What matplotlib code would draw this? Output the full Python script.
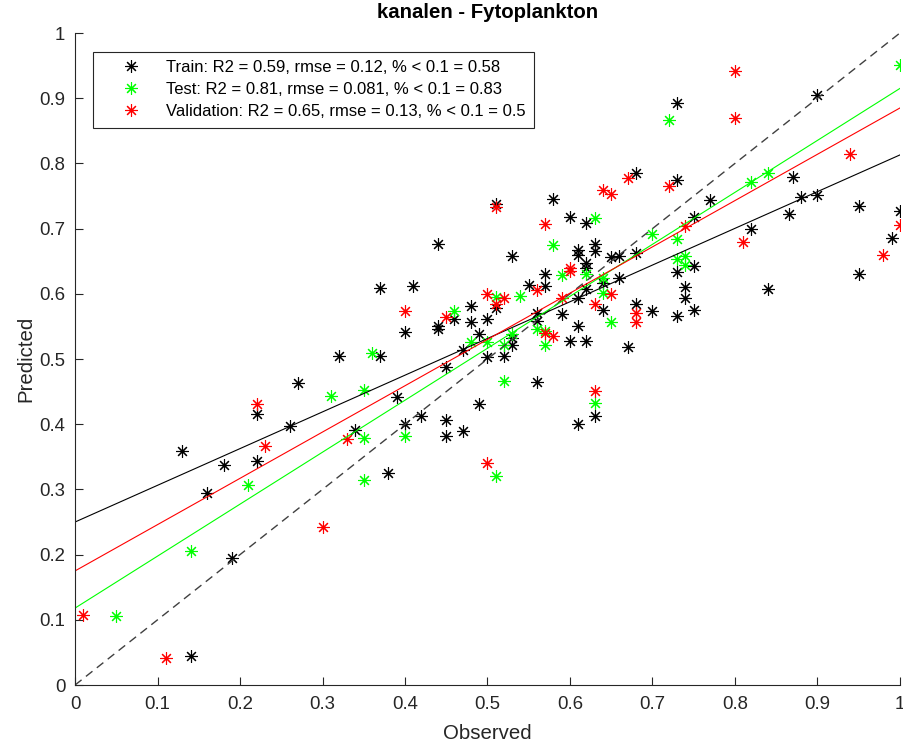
import numpy as np
import matplotlib
matplotlib.use('Agg')
import matplotlib.pyplot as plt

plt.rcParams['font.family'] = ['Liberation Sans', 'DejaVu Sans']

# Train (black)
train_obs = [0.14, 0.13, 0.16, 0.18, 0.19, 0.22, 0.22, 0.26, 0.27, 0.32, 0.34, 0.37, 0.38, 0.39,
             0.40, 0.42, 0.45, 0.45, 0.47, 0.49, 0.56, 0.45, 0.47, 0.49, 0.50, 0.52, 0.53, 0.53,
             0.60, 0.62, 0.67, 0.63, 0.61, 0.37, 0.41, 0.40, 0.44, 0.44, 0.44, 0.46, 0.48, 0.48,
             0.50, 0.51, 0.51, 0.53, 0.55, 0.57, 0.57, 0.56, 0.56, 0.58, 0.60, 0.62, 0.61, 0.61,
             0.63, 0.63, 0.62, 0.62, 0.65, 0.66, 0.68, 0.66, 0.64, 0.62, 0.61, 0.59, 0.64, 0.61,
             0.68, 0.70, 0.74, 0.75, 0.73, 0.73, 0.75, 0.74, 0.68, 0.73, 0.73, 0.75, 0.77, 0.82,
             0.84, 0.865, 0.87, 0.88, 0.90, 0.90, 0.95, 0.95, 0.99, 1.00]
train_pred = [0.044, 0.359, 0.294, 0.338, 0.195, 0.416, 0.344, 0.397, 0.463, 0.505, 0.391, 0.504,
              0.325, 0.442, 0.400, 0.412, 0.407, 0.382, 0.390, 0.431, 0.464, 0.488, 0.514, 0.538,
              0.503, 0.504, 0.522, 0.532, 0.527, 0.527, 0.519, 0.413, 0.400, 0.609, 0.612, 0.542,
              0.677, 0.550, 0.546, 0.562, 0.582, 0.557, 0.562, 0.578, 0.738, 0.658, 0.614, 0.631,
              0.612, 0.570, 0.558, 0.746, 0.718, 0.708, 0.667, 0.660, 0.677, 0.666, 0.647, 0.639,
              0.657, 0.658, 0.662, 0.624, 0.616, 0.608, 0.594, 0.569, 0.575, 0.551, 0.585, 0.574,
              0.593, 0.575, 0.566, 0.634, 0.643, 0.611, 0.786, 0.775, 0.893, 0.718, 0.744, 0.699,
              0.608, 0.723, 0.779, 0.749, 0.752, 0.905, 0.734, 0.631, 0.685, 0.727]

# Test (green)
test_obs = [0.05, 0.14, 0.21, 0.31, 0.35, 0.35, 0.35, 0.36, 0.40, 0.46, 0.48, 0.50, 0.51, 0.52,
            0.52, 0.53, 0.51, 0.54, 0.56, 0.57, 0.57, 0.58, 0.59, 0.62, 0.63, 0.64, 0.64, 0.65,
            0.70, 0.73, 0.73, 0.74, 0.74, 0.72, 0.82, 0.84, 1.00, 0.63]
test_pred = [0.106, 0.206, 0.307, 0.444, 0.452, 0.379, 0.314, 0.509, 0.382, 0.573, 0.526, 0.526,
             0.321, 0.467, 0.521, 0.538, 0.595, 0.597, 0.546, 0.543, 0.521, 0.675, 0.629, 0.630,
             0.717, 0.624, 0.601, 0.557, 0.691, 0.684, 0.653, 0.658, 0.644, 0.867, 0.772, 0.786,
             0.951, 0.432]

# Validation (red)
val_obs = [0.01, 0.11, 0.22, 0.23, 0.30, 0.33, 0.40, 0.45, 0.50, 0.51, 0.52, 0.50, 0.51, 0.56,
           0.57, 0.58, 0.57, 0.59, 0.60, 0.60, 0.63, 0.63, 0.65, 0.64, 0.65, 0.67, 0.72, 0.68,
           0.68, 0.74, 0.80, 0.80, 0.81, 0.94, 0.98, 1.00]
val_pred = [0.107, 0.042, 0.431, 0.367, 0.243, 0.377, 0.573, 0.565, 0.600, 0.585, 0.594, 0.341,
            0.733, 0.606, 0.540, 0.536, 0.707, 0.593, 0.640, 0.635, 0.584, 0.451, 0.599, 0.759,
            0.753, 0.777, 0.766, 0.571, 0.557, 0.704, 0.942, 0.869, 0.680, 0.814, 0.660, 0.706]

# linear fits (intercept, slope)
fit_train = (0.25, 0.563)
fit_test = (0.118, 0.797)
fit_val = (0.175, 0.710)

labels = ['Train: R2 = 0.59, rmse = 0.12, % < 0.1 = 0.58',
          'Test: R2 = 0.81, rmse = 0.081, % < 0.1 = 0.83',
          'Validation: R2 = 0.65, rmse = 0.13, % < 0.1 = 0.5']

fig = plt.figure(figsize=(9.04, 7.45), dpi=100)
ax = fig.add_axes([0.083, 0.0805, 0.9125, 0.8752])

ast = (8, 2, 0)
ms = 9
mew = 0.8
h1, = ax.plot(train_obs, train_pred, ls='none', marker=ast, ms=ms, mew=mew, color='k')
h2, = ax.plot(test_obs, test_pred, ls='none', marker=ast, ms=ms, mew=mew, color=(0, 1, 0))
h3, = ax.plot(val_obs, val_pred, ls='none', marker=ast, ms=ms, mew=mew, color=(1, 0, 0))

xx = np.array([0, 1])
ax.plot(xx, xx, ls=(0, (6, 4)), color='0.25', lw=1)
ax.plot(xx, fit_train[0] + fit_train[1] * xx, color='k', lw=0.8)
ax.plot(xx, fit_test[0] + fit_test[1] * xx, color=(0, 1, 0), lw=0.8)
ax.plot(xx, fit_val[0] + fit_val[1] * xx, color=(1, 0, 0), lw=0.8)

ax.set_xlim(0, 1)
ax.set_ylim(0, 1)
ticks = np.round(np.arange(0, 1.01, 0.1), 1)
ticklabels = ['0'] + [f'{t:g}' for t in ticks[1:-1]] + ['1']
ax.set_xticks(ticks)
ax.set_xticklabels(ticklabels)
ax.set_yticks(ticks)
ax.set_yticklabels(ticklabels)
ax.spines['top'].set_visible(False)
ax.spines['right'].set_visible(False)
for s in ['left', 'bottom']:
    ax.spines[s].set_color('#262626')
    ax.spines[s].set_linewidth(0.8)
ax.tick_params(direction='in', length=6, width=0.8, colors='#262626', labelsize=13.4)
ax.tick_params(axis='x', pad=8)
ax.tick_params(axis='y', pad=7)

ax.set_xlabel('Observed', fontsize=14.7, color='#262626', labelpad=8)
ax.set_ylabel('Predicted', fontsize=14.7, color='#262626', labelpad=3)
ax.set_title('kanalen - Fytoplankton', fontsize=14.7, fontweight='bold', pad=11)

leg = ax.legend([h1, h2, h3], labels, loc='upper left', bbox_to_anchor=(0.022, 0.971),
                borderaxespad=0, fontsize=12, handlelength=3.5, handletextpad=0.35,
                labelspacing=0.42, borderpad=0.5, fancybox=False, framealpha=1)
leg.get_frame().set_edgecolor('#262626')
leg.get_frame().set_linewidth(0.8)

fig.savefig('out.png', dpi=100)
